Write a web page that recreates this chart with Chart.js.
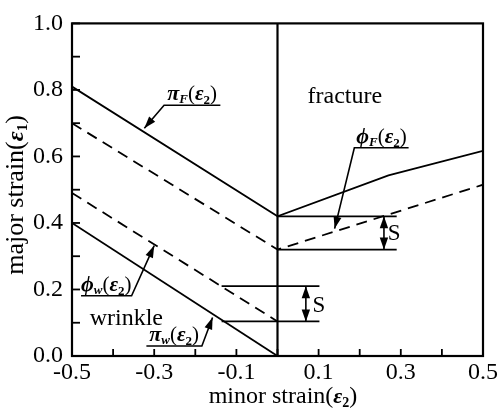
<!DOCTYPE html>
<html>
<head>
<meta charset="utf-8">
<script src="https://cdn.jsdelivr.net/npm/chart.js@4"></script>
<style>
  html, body { margin: 0; padding: 0; background: #fff; }
  #wrap { width: 500px; height: 412px; }
</style>
</head>
<body>
<div id="wrap"><canvas id="flc"></canvas></div>
<script>
// Forming limit diagram: fracture / wrinkle limits and their safety curves
const xTickLabels = ['-0.5', '-0.3', '-0.1', '0.1', '0.3', '0.5'];
const yTickLabels = ['0.0', '0.2', '0.4', '0.6', '0.8', '1.0'];

// minor strain / major strain
const piF_x = [-0.5, 0, 0.27, 0.5];
const piF_y = [0.81, 0.42, 0.543, 0.617];
const phiF_x = [-0.5, 0, 0.5];
const phiF_y = [0.70, 0.32, 0.515];
const phiW_x = [-0.5, 0];
const phiW_y = [0.49, 0.104];
const piW_x = [-0.5, 0];
const piW_y = [0.40, 0.0];

// plane strain separator
const sep_x = [0, 0];
const sep_y = [0, 1];

// margin guides (S)
const guideF_x = [0, 0.29];
const guideF_y = [0.42, 0.32];
const guideW_x = [-0.136, 0.102];
const guideW_y = [0.21, 0.104];

const SERIF = '"Liberation Serif", "DejaVu Serif", serif';

function pts(xs, ys) {
    return xs.map((x, i) => ({ x: x, y: ys[i] }));
}

function lineSet(xs, ys, dashed, width) {
    return {
        data: pts(xs, ys),
        showLine: true,
        borderColor: '#000',
        borderWidth: width || 1.8,
        borderDash: dashed ? [11, 7] : [],
        pointRadius: 0,
        tension: 0,
        fill: false
    };
}

const datasets = [
    lineSet(piF_x, piF_y, false),
    lineSet(phiF_x, phiF_y, true),
    lineSet(phiW_x, phiW_y, true),
    lineSet(piW_x, piW_y, false),
    lineSet(sep_x, sep_y, false, 2.2),
    lineSet(guideF_x, [guideF_y[0], guideF_y[0]], false),
    lineSet(guideF_x, [guideF_y[1], guideF_y[1]], false),
    lineSet(guideW_x, [guideW_y[0], guideW_y[0]], false),
    lineSet(guideW_x, [guideW_y[1], guideW_y[1]], false)
];

// callouts: label parts, arrow tip, elbow, end of underline (data coords)
function greekLabel(sym, sub) {
    return [
        { t: sym, font: 'italic bold 22px ' + SERIF },
        { t: sub, font: 'italic bold 13px ' + SERIF, dy: 3 },
        { t: '(', font: '21px ' + SERIF },
        { t: 'ε', font: 'italic bold 21px ' + SERIF },
        { t: '2', font: 'bold 13px ' + SERIF, dy: 4 },
        { t: ')', font: '21px ' + SERIF }
    ];
}

const callouts = [
    { parts: greekLabel('π', 'F'), tip: [-0.324, 0.685], elbow: [-0.276, 0.754], end: [-0.139, 0.754] },
    { parts: greekLabel('ϕ', 'F'), tip: [0.139, 0.383], elbow: [0.187, 0.626], end: [0.319, 0.626] },
    { parts: greekLabel('ϕ', 'w'), tip: [-0.300, 0.332], elbow: [-0.355, 0.181], end: [-0.478, 0.181] },
    { parts: greekLabel('π', 'w'), tip: [-0.158, 0.116], elbow: [-0.184, 0.030], end: [-0.319, 0.030] }
];

const marginArrows = [
    { x: 0.259, y0: guideF_y[0], y1: guideF_y[1], label: [0.283, 0.368] },
    { x: 0.069, y0: guideW_y[0], y1: guideW_y[1], label: [0.100, 0.151] }
];

const regionLabels = [
    { text: 'wrinkle', at: [-0.457, 0.092] },
    { text: 'fracture', at: [0.073, 0.76] }
];

function richWidth(ctx, parts) {
    let w = 0;
    parts.forEach(p => { ctx.font = p.font; w += ctx.measureText(p.t).width; });
    return w;
}

function drawRich(ctx, parts, x, y) {
    let cx = x;
    parts.forEach(p => {
        ctx.font = p.font;
        ctx.fillText(p.t, cx, y + (p.dy || 0));
        cx += ctx.measureText(p.t).width;
    });
}

function arrowHead(ctx, fx, fy, tx, ty, len, half) {
    const a = Math.atan2(ty - fy, tx - fx);
    ctx.beginPath();
    ctx.moveTo(tx, ty);
    ctx.lineTo(tx - len * Math.cos(a) + half * Math.sin(a), ty - len * Math.sin(a) - half * Math.cos(a));
    ctx.lineTo(tx - len * Math.cos(a) - half * Math.sin(a), ty - len * Math.sin(a) + half * Math.cos(a));
    ctx.closePath();
    ctx.fill();
}

function isLabelled(value, labels) {
    return labels.find(l => Math.abs(parseFloat(l) - value) < 1e-6);
}

const decorPlugin = {
    id: 'decor',
    afterDraw(chart) {
        const ctx = chart.ctx;
        const xs = chart.scales.x;
        const ys = chart.scales.y;
        const area = chart.chartArea;
        const px = v => xs.getPixelForValue(v);
        const py = v => ys.getPixelForValue(v);

        ctx.save();
        ctx.strokeStyle = '#000';
        ctx.fillStyle = '#000';

        // frame
        ctx.lineWidth = 2.2;
        ctx.strokeRect(area.left, area.top, area.right - area.left, area.bottom - area.top);

        // inward ticks on left and bottom
        ctx.lineWidth = 1.8;
        xs.ticks.forEach(t => {
            const x = px(t.value);
            ctx.beginPath();
            ctx.moveTo(x, area.bottom);
            ctx.lineTo(x, area.bottom - 7);
            ctx.stroke();
        });
        ys.ticks.forEach(t => {
            const y = py(t.value);
            ctx.beginPath();
            ctx.moveTo(area.left, y);
            ctx.lineTo(area.left + 8, y);
            ctx.stroke();
        });

        // callouts
        ctx.textAlign = 'left';
        ctx.textBaseline = 'alphabetic';
        callouts.forEach(c => {
            const tx = px(c.tip[0]), ty = py(c.tip[1]);
            const ex = px(c.elbow[0]), ey = py(c.elbow[1]);
            const ux = px(c.end[0]);
            ctx.lineWidth = 1.6;
            ctx.beginPath();
            ctx.moveTo(ux, ey);
            ctx.lineTo(ex, ey);
            ctx.lineTo(tx, ty);
            ctx.stroke();
            arrowHead(ctx, ex, ey, tx, ty, 12, 4);
            const w = richWidth(ctx, c.parts);
            drawRich(ctx, c.parts, (ex + ux) / 2 - w / 2, ey - 5);
        });

        // margin double arrows
        marginArrows.forEach(m => {
            const x = px(m.x), a = py(m.y0), b = py(m.y1);
            const mid = (a + b) / 2;
            ctx.lineWidth = 1.6;
            ctx.beginPath();
            ctx.moveTo(x, a);
            ctx.lineTo(x, b);
            ctx.stroke();
            arrowHead(ctx, x, mid, x, a, 12, 4.2);
            arrowHead(ctx, x, mid, x, b, 12, 4.2);
            ctx.font = '23px ' + SERIF;
            ctx.textBaseline = 'middle';
            ctx.fillText('S', px(m.label[0]) - 6, py(m.label[1]));
            ctx.textBaseline = 'alphabetic';
        });

        // region labels
        ctx.font = '24px ' + SERIF;
        regionLabels.forEach(r => {
            ctx.fillText(r.text, px(r.at[0]), py(r.at[1]));
        });

        // axis titles
        const xTitle = [
            { t: 'minor strain', font: '24px ' + SERIF },
            { t: '(', font: '24px ' + SERIF },
            { t: 'ε', font: 'italic bold 22px ' + SERIF },
            { t: '2', font: 'bold 14px ' + SERIF, dy: 4 },
            { t: ')', font: '24px ' + SERIF }
        ];
        const xw = richWidth(ctx, xTitle);
        drawRich(ctx, xTitle, 283 - xw / 2, 403);

        const yTitle = [
            { t: 'major strain', font: '26px ' + SERIF },
            { t: '(', font: '26px ' + SERIF },
            { t: 'ε', font: 'italic bold 24px ' + SERIF },
            { t: '1', font: 'bold 15px ' + SERIF, dy: 4 },
            { t: ')', font: '26px ' + SERIF }
        ];
        const yw = richWidth(ctx, yTitle);
        ctx.translate(23, 195);
        ctx.rotate(-Math.PI / 2);
        drawRich(ctx, yTitle, -yw / 2, 0);

        ctx.restore();
    }
};

new Chart(document.getElementById('flc'), {
    type: 'scatter',
    data: { datasets: datasets },
    options: {
        responsive: true,
        maintainAspectRatio: false,
        animation: false,
        layout: { padding: { left: 0, right: 13, top: 19, bottom: 0 } },
        plugins: {
            legend: { display: false },
            tooltip: { enabled: false }
        },
        scales: {
            x: {
                type: 'linear',
                min: -0.5,
                max: 0.5,
                grid: { display: false, drawTicks: false },
                border: { display: false },
                afterFit(scale) { scale.height = 56; },
                ticks: {
                    stepSize: 0.1,
                    autoSkip: false,
                    maxRotation: 0,
                    padding: 2,
                    color: '#000',
                    font: { family: SERIF, size: 24 },
                    callback: v => isLabelled(v, xTickLabels) || ''
                }
            },
            y: {
                type: 'linear',
                min: 0,
                max: 1,
                grid: { display: false, drawTicks: false },
                border: { display: false },
                afterFit(scale) { scale.width = 72; },
                ticks: {
                    stepSize: 0.1,
                    autoSkip: false,
                    padding: 9,
                    color: '#000',
                    font: { family: SERIF, size: 24 },
                    callback: v => isLabelled(v, yTickLabels) || ''
                }
            }
        }
    },
    plugins: [decorPlugin]
});
</script>
</body>
</html>
